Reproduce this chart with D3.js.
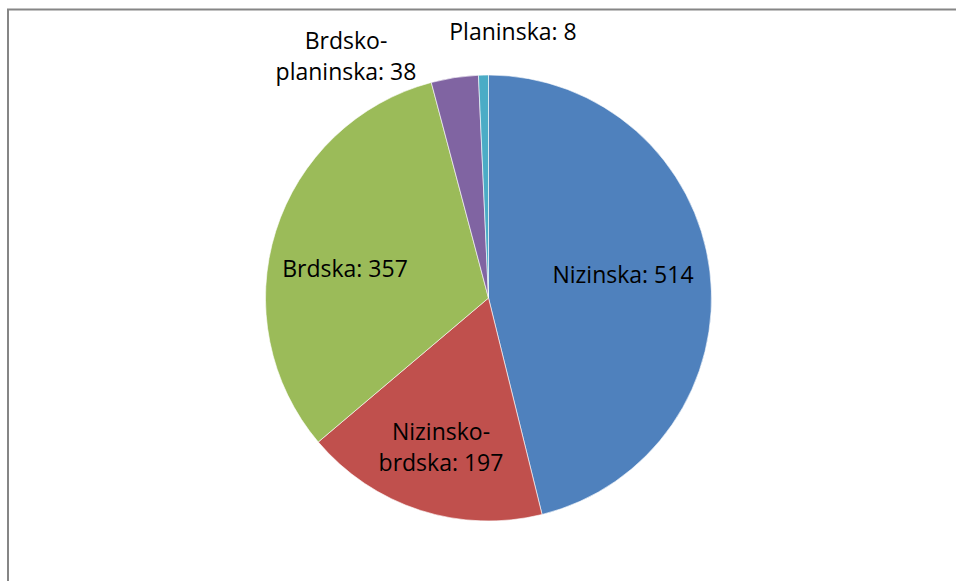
<!DOCTYPE html>
<html>
<head>
<meta charset="utf-8">
<script src="https://cdn.jsdelivr.net/npm/d3@7"></script>
<style>
  body { margin: 0; background: #fff; }
  svg text { font-family: "Open Sans", Lato, sans-serif; font-size: 23px; fill: #000; }
</style>
</head>
<body>
<div id="chart"></div>
<script>
// podaci
const categories = ["Nizinska", "Nizinsko-brdska", "Brdska", "Brdsko-planinska", "Planinska"];
const values = [514, 197, 357, 38, 8];
const colors = ["#4F81BD", "#C0504D", "#9BBB59", "#8064A2", "#4BACC6"];
// tekst etiketa (po redovima) i njihov polozaj
const labelLines = [["Nizinska: 514"], ["Nizinsko-", "brdska: 197"], ["Brdska: 357"], ["Brdsko-", "planinska: 38"], ["Planinska: 8"]];
const labelPos = [[623, 275], [441, 447], [345, 269], [346, 56], [513, 32]];

const width = 956, height = 581;
const cx = 488.5, cy = 298, radius = 223;

const svg = d3.select("#chart")
    .append("svg")
    .attr("width", width)
    .attr("height", height);

// okvir (samo lijevi i gornji rub su vidljivi)
svg.append("path")
    .attr("d", `M8,${height + 5} L8,9.5 L${width + 5},9.5`)
    .attr("fill", "none")
    .attr("stroke", "#868686")
    .attr("stroke-width", 2);

const data = categories.map((c, i) => ({ name: c, value: values[i] }));

const pie = d3.pie()
    .sort(null)
    .value(d => d.value);

const arc = d3.arc()
    .innerRadius(0)
    .outerRadius(radius);

const g = svg.append("g")
    .attr("transform", `translate(${cx},${cy})`);

g.selectAll("path")
    .data(pie(data))
    .join("path")
    .attr("d", arc)
    .attr("fill", (d, i) => colors[i])
    .attr("stroke", "#fff")
    .attr("stroke-width", 0.6);

// etikete
const labels = svg.selectAll("text.label")
    .data(labelLines)
    .join("text")
    .attr("class", "label")
    .attr("text-anchor", "middle")
    .attr("x", (d, i) => labelPos[i][0])
    .attr("y", (d, i) => labelPos[i][1] - (d.length - 1) * 15.5);

labels.selectAll("tspan")
    .data((d, i) => d.map(t => ({ t, x: labelPos[i][0] })))
    .join("tspan")
    .attr("x", d => d.x)
    .attr("dy", (d, j) => j === 0 ? "0.35em" : 31)
    .text(d => d.t);
</script>
</body>
</html>
